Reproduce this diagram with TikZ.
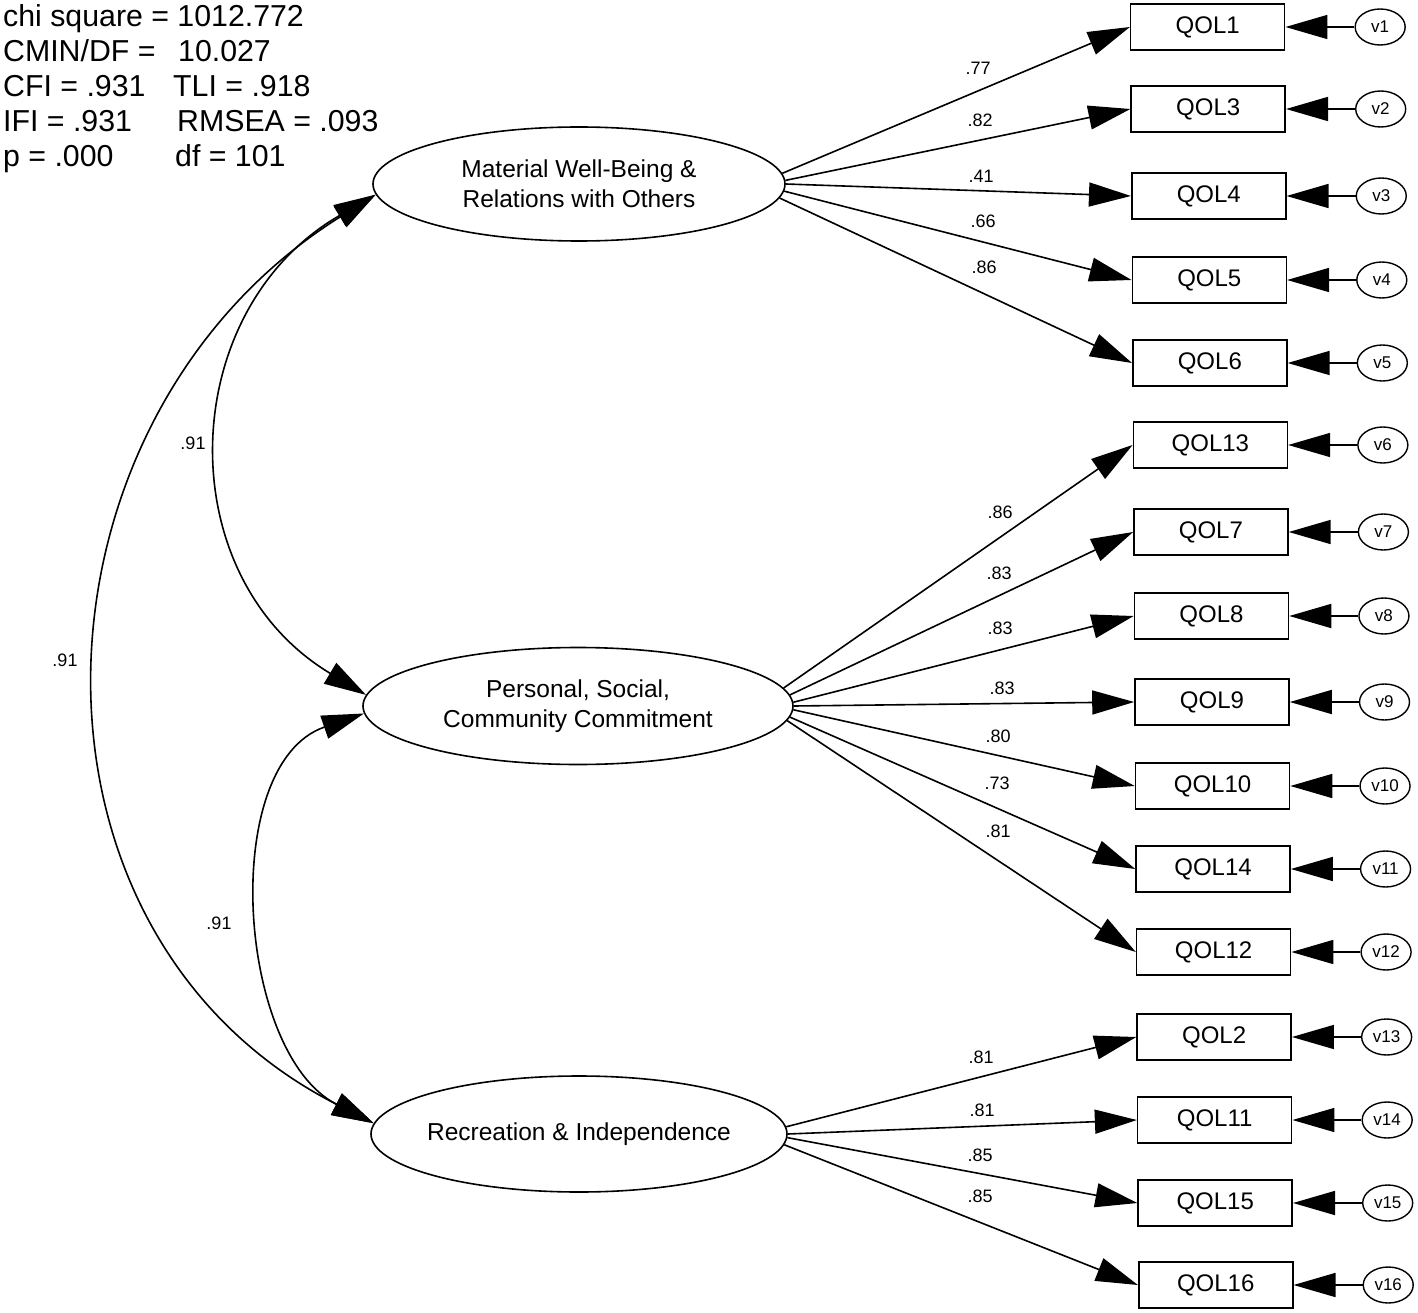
\documentclass[tikz,border=0pt]{standalone}
\usepackage{fontspec}
\setmainfont{Liberation Sans}
\usetikzlibrary{arrows.meta,shapes.geometric}

\begin{document}
\begin{tikzpicture}[x=1pt,y=-1pt,
    factor/.style={draw,ellipse,line width=1.6pt,inner sep=0pt,align=center,
      font=\fontsize{24.5}{30}\selectfont},
    item/.style={draw,rectangle,line width=1.6pt,minimum width=154pt,
      minimum height=46pt,inner sep=0pt,font=\fontsize{24}{24}\selectfont},
    resid/.style={draw,ellipse,line width=1.4pt,minimum width=50pt,
      minimum height=36pt,inner sep=0pt,font=\fontsize{17}{17}\selectfont},
    load/.style={-{Triangle[length=42pt,width=24pt]},line width=1.6pt},
    cov/.style={{Triangle[length=42pt,width=24pt]}-{Triangle[length=42pt,width=24pt]},
      line width=1.6pt},
    coef/.style={inner sep=0pt,font=\fontsize{18}{18}\selectfont}]
  \useasboundingbox (0,0) rectangle (1418,1313);

  % fit indices
  \node[anchor=north west,inner sep=0pt,align=left,
        font=\fontsize{30.3}{35}\selectfont] (fit) at (3,4)
    {chi square = 1012.772\\
     \makebox[175pt][l]{CMIN/DF =}10.027\\
     \makebox[170pt][l]{CFI = .931}TLI = .918\\
     \makebox[174pt][l]{IFI = .931}RMSEA = .093\\
     \makebox[172pt][l]{p = .000}df = 101};

  % latent factors
  \node[factor,minimum width=412pt,minimum height=114pt] (F1) at (579,184)
    {Material Well-Being \&\\Relations with Others};
  \node[factor,minimum width=430pt,minimum height=117pt] (F2) at (578,706)
    {Personal, Social,\\Community Commitment};
  \node[factor,minimum width=416pt,minimum height=116pt,inner xsep=-7pt] (F3) at (579,1134)
    {Recreation \& Independence};

  % indicators of F1
  \foreach \n/\v/\yy/\cx/\cy/\c in {1/1/27/978/68/.77,
                                    3/2/109/980/120/.82,
                                    4/3/196/981/176/.41,
                                    5/4/280/983/221/.66,
                                    6/5/363/984/267/.86}
  {\pgfmathsetmacro\bx{1207.5+0.0064*\yy}
   \pgfmathsetmacro\ex{\bx+172.5}
   \pgfmathsetmacro\ang{(184-\yy)/40}
   \node[item] (q\n) at (\bx,\yy) {QOL\n};
   \node[resid] (v\v) at (\ex,\yy) {v\v};
   \draw[load] (F1.\ang) -- (q\n.west);
   \draw[load] (v\v) -- (q\n.east);
   \node[coef] (c\n) at (\cx,\cy) {\c};
  };

  % indicators of F2
  \foreach \n/\v/\yy/\cx/\cy/\c in {13/6/445/1000/512/.86,
                                    7/7/532/999/573/.83,
                                    8/8/616/1000/628/.83,
                                    9/9/702/1002/688/.83,
                                    10/10/786/998/736/.80,
                                    14/11/869/997/783/.73,
                                    12/12/952/998/831/.81}
  {\pgfmathsetmacro\bx{1207.5+0.0064*\yy}
   \pgfmathsetmacro\ex{\bx+172.5}
   \pgfmathsetmacro\ang{(706-\yy)/50}
   \node[item] (q\n) at (\bx,\yy) {QOL\n};
   \node[resid] (v\v) at (\ex,\yy) {v\v};
   \draw[load] (F2.\ang) -- (q\n.west);
   \draw[load] (v\v) -- (q\n.east);
   \node[coef] (c\n) at (\cx,\cy) {\c};
  };

  % indicators of F3
  \foreach \n/\v/\yy/\cx/\cy/\c in {2/13/1037/981/1057/.81,
                                    11/14/1120/982/1110/.81,
                                    15/15/1203/980/1155/.85,
                                    16/16/1285/980/1196/.85}
  {\pgfmathsetmacro\bx{1207.5+0.0064*\yy}
   \pgfmathsetmacro\ex{\bx+172.5}
   \pgfmathsetmacro\ang{(1134-\yy)/40}
   \node[item] (q\n) at (\bx,\yy) {QOL\n};
   \node[resid] (v\v) at (\ex,\yy) {v\v};
   \draw[load] (F3.\ang) -- (q\n.west);
   \draw[load] (v\v) -- (q\n.east);
   \node[coef] (c\n) at (\cx,\cy) {\c};
  };

  % factor correlations
  \draw[cov] (F1.183) to[out=210,in=149,looseness=1.18] (F2.177);
  \draw[cov] (F1.183) to[out=212,in=153,looseness=1.16] (F3.177.5);
  \draw[cov] (F2.182.4) to[out=199,in=153,looseness=0.96] (F3.177.5);
  \node[coef] (r12) at (193,443) {.91};
  \node[coef] (r13) at (65,660) {.91};
  \node[coef] (r23) at (219,923) {.91};
\end{tikzpicture}
\end{document}
